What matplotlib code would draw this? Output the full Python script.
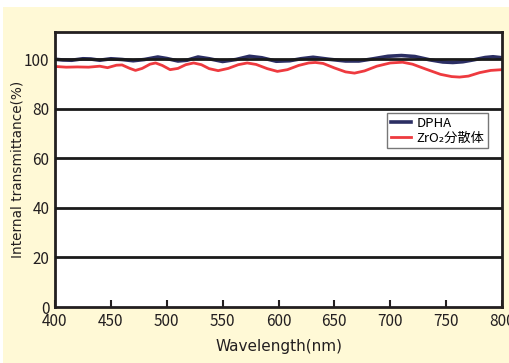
import matplotlib.pyplot as plt
from matplotlib.patches import Rectangle

# 読み取った値
wl_zr = [400, 410, 420, 430, 440, 447, 455, 460, 467, 472, 478, 485, 490, 496,
         503, 510, 517, 524, 531, 538, 546, 555, 564, 572, 580, 590, 599, 608,
         618, 627, 633, 640, 650, 660, 668, 677, 688, 700, 711, 720, 732, 745,
         755, 762, 770, 780, 790, 800]
t_zr = [97.1, 96.8, 96.9, 96.8, 97.2, 96.6, 97.6, 97.7, 96.3, 95.5, 96.3, 98.0,
        98.5, 97.5, 95.8, 96.3, 97.8, 98.5, 97.8, 96.2, 95.4, 96.3, 97.8, 98.5,
        97.9, 96.2, 95.1, 95.8, 97.5, 98.5, 98.7, 98.3, 96.5, 94.9, 94.4, 95.3,
        97.2, 98.5, 98.8, 98.0, 96.0, 93.9, 93.0, 92.8, 93.2, 94.6, 95.5, 95.8]

wl_dpha = [400, 407, 415, 425, 432, 440, 450, 460, 470, 480, 492, 500, 510, 518,
           528, 538, 550, 562, 574, 585, 598, 610, 620, 631, 645, 660, 672, 685,
           698, 710, 722, 735, 747, 756, 765, 775, 785, 792, 800]
t_dpha = [100.0, 99.7, 99.6, 100.2, 100.1, 99.6, 100.2, 99.9, 99.4, 99.9, 100.9,
          100.3, 99.3, 99.6, 100.9, 100.2, 99.1, 99.9, 101.2, 100.6, 99.2, 99.4,
          100.2, 100.8, 100.0, 99.3, 99.3, 100.2, 101.2, 101.5, 101.1, 99.8, 98.9,
          98.7, 99.0, 99.8, 100.7, 101.0, 100.6]

xticks = [400, 450, 500, 550, 600, 650, 700, 750, 800]
yticks = [0, 20, 40, 60, 80, 100]

narrow = ['Liberation Sans Narrow', 'Noto Sans CJK JP', 'DejaVu Sans']

fig = plt.figure(figsize=(5.1, 3.63), dpi=100, facecolor='white')
bg = Rectangle((3 / 510, 0), 1, (363 - 7) / 363, transform=fig.transFigure,
               facecolor='#FFF9D6', edgecolor='none', zorder=-10)
fig.patches.append(bg)

ax = fig.add_axes([55 / 510, 56 / 363, 447 / 510, 275 / 363])
ax.set_facecolor('white')

ax.plot(wl_dpha, t_dpha, color='#2B2E63', lw=2.6, label='DPHA', zorder=2)
ax.plot(wl_zr, t_zr, color='#EE3A3F', lw=2.0, label='ZrO₂分散体', zorder=2)

for y in yticks[1:]:
    ax.axhline(y, color='#1A1A1A', lw=2.0, zorder=3)

ax.set_xlim(400, 800)
ax.set_ylim(0, 111)
ax.set_xticks(xticks)
ax.set_yticks(yticks)
ax.tick_params(axis='x', direction='in', length=5, width=1.5, color='#231F20', pad=4)
ax.tick_params(axis='y', length=0, pad=4)
for lab in ax.get_xticklabels() + ax.get_yticklabels():
    lab.set_family(narrow)
    lab.set_fontsize(11)
    lab.set_color('#231F20')
for s in ax.spines.values():
    s.set_color('#231F20')
    s.set_linewidth(2)

ax.set_xlabel('Wavelength(nm)', fontsize=11, color='#231F20')
ax.set_ylabel('Internal transmittance(%)', fontsize=9.8, color='#231F20')
ax.xaxis.set_label_coords(0.5, -40 / 275)
ax.xaxis.label.set_va('center')
ax.yaxis.set_label_coords(-37 / 447, 0.5)
ax.yaxis.label.set_va('center')

leg = ax.legend(loc='upper right', bbox_to_anchor=(0.969, 0.705), borderaxespad=0,
                prop={'family': narrow, 'size': 9.5},
                fancybox=False, framealpha=1, edgecolor='#777777', handlelength=1.5,
                borderpad=0.3, labelspacing=0.1, handletextpad=0.4)
leg.get_frame().set_linewidth(1.0)
leg.set_zorder(5)

fig.savefig('out.png', dpi=100, facecolor=fig.get_facecolor())
